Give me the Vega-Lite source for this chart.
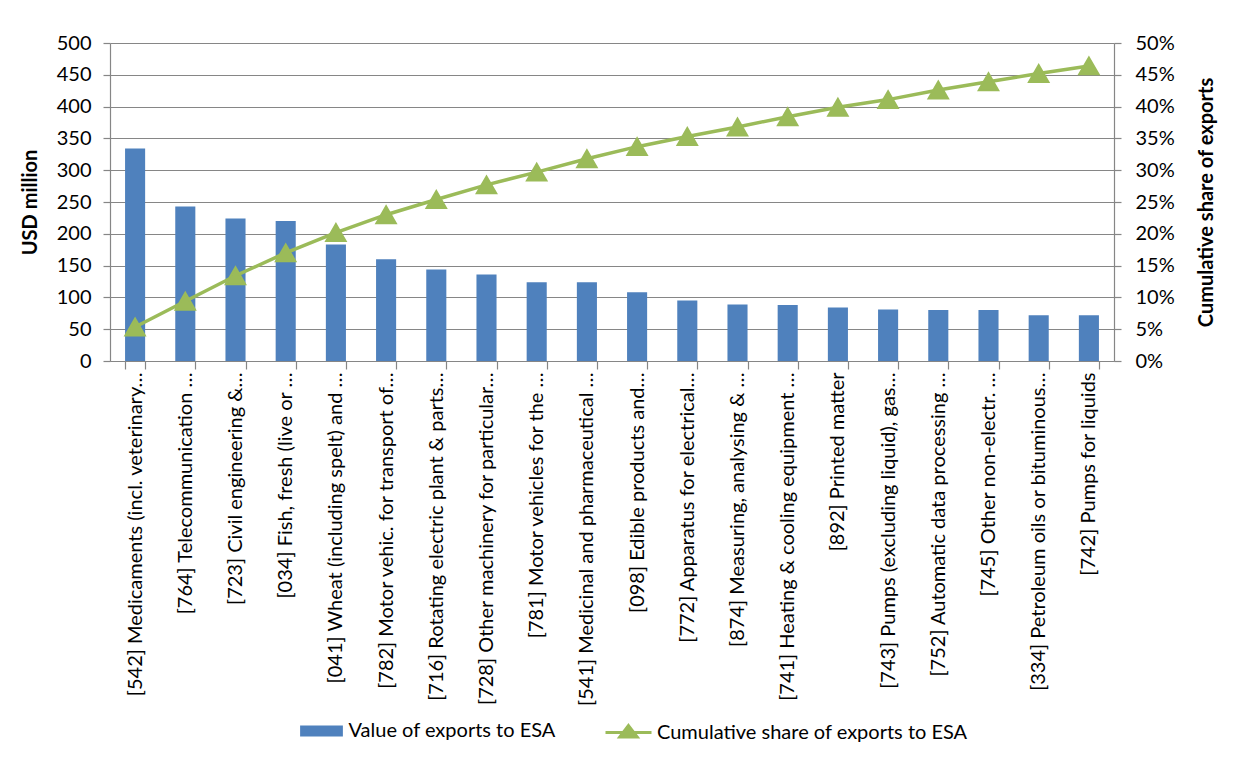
{
  "$schema": "https://vega.github.io/schema/vega-lite/v6.json",
  "width": 1004,
  "height": 318,
  "autosize": {"type": "none"},
  "padding": {"left": 110, "top": 43, "right": 135, "bottom": 398},
  "background": "white",
  "config": {
    "font": "Lato",
    "view": {"stroke": null},
    "axis": {
      "labelFont": "Lato",
      "labelFontSize": 20,
      "labelColor": "#000000",
      "titleFont": "Lato",
      "titleFontSize": 20,
      "titleFontWeight": "bold",
      "titleColor": "#000000",
      "domainColor": "#868686",
      "tickColor": "#868686",
      "gridColor": "#868686",
      "domainWidth": 1.2,
      "tickWidth": 1.2,
      "gridWidth": 1.2,
      "tickSize": 7
    },
    "legend": {
      "labelFont": "Lato",
      "labelFontSize": 20,
      "labelColor": "#000000",
      "labelLimit": 500,
      "symbolSize": 2116,
      "labelOffset": 4
    }
  },
  "data": {
    "values": [
      {"product": "[542] Medicaments (incl. veterinary\u2026", "value": 334, "share": 0.0535},
      {"product": "[764] Telecommunication \u2026", "value": 243, "share": 0.094},
      {"product": "[723] Civil engineering &\u2026", "value": 224, "share": 0.134},
      {"product": "[034] Fish, fresh (live or \u2026", "value": 220, "share": 0.170},
      {"product": "[041] Wheat (including spelt) and \u2026", "value": 183, "share": 0.202},
      {"product": "[782] Motor vehic. for transport of\u2026", "value": 160, "share": 0.230},
      {"product": "[716] Rotating electric plant & parts\u2026", "value": 144, "share": 0.254},
      {"product": "[728] Other machinery for particular\u2026", "value": 136, "share": 0.277},
      {"product": "[781] Motor vehicles for the \u2026", "value": 124, "share": 0.297},
      {"product": "[541] Medicinal and pharmaceutical \u2026", "value": 124, "share": 0.318},
      {"product": "[098] Edible products and\u2026", "value": 108, "share": 0.337},
      {"product": "[772] Apparatus for electrical\u2026", "value": 95, "share": 0.353},
      {"product": "[874] Measuring, analysing & \u2026", "value": 89, "share": 0.368},
      {"product": "[741] Heating & cooling equipment \u2026", "value": 88, "share": 0.384},
      {"product": "[892] Printed matter", "value": 84, "share": 0.399},
      {"product": "[743] Pumps (excluding liquid), gas\u2026", "value": 81, "share": 0.411},
      {"product": "[752] Automatic data processing \u2026", "value": 80, "share": 0.426},
      {"product": "[745] Other non-electr. \u2026", "value": 80, "share": 0.439},
      {"product": "[334] Petroleum oils or bituminous\u2026", "value": 72, "share": 0.452},
      {"product": "[742] Pumps for liquids", "value": 72, "share": 0.464}
    ]
  },
  "layer": [
    {
      "mark": {"type": "bar"},
      "encoding": {
        "x": {
          "field": "product",
          "type": "nominal",
          "sort": null,
          "scale": {"paddingInner": 0.6, "paddingOuter": 0.3},
          "axis": {
            "title": null,
            "labelAngle": -90,
            "labelPadding": 3,
            "labelLimit": 450,
            "tickBand": "extent",
            "grid": false,
            "tickSize": 8
          }
        },
        "y": {
          "field": "value",
          "type": "quantitative",
          "scale": {"domain": [0, 500]},
          "axis": {
            "title": "USD million",
            "values": [0, 50, 100, 150, 200, 250, 300, 350, 400, 450, 500],
            "grid": true,
            "labelPadding": 12,
            "titlePadding": 16
          }
        },
        "fill": {
          "datum": "Value of exports to ESA",
          "type": "nominal",
          "scale": {"domain": ["Value of exports to ESA"], "range": ["#4F81BD"]},
          "legend": {
            "orient": "none",
            "legendX": 188.5,
            "legendY": 665,
            "direction": "horizontal",
            "title": null,
            "symbolType": "M-0.93,-0.24H0.93V0.24H-0.93Z",
            "symbolStrokeWidth": 0
          }
        }
      }
    },
    {
      "mark": {
        "type": "line",
        "strokeWidth": 3.5,
        "color": "#9BBB59",
        "point": {"shape": "triangle-up", "size": 380, "filled": true, "color": "#9BBB59"}
      },
      "encoding": {
        "x": {"field": "product", "type": "nominal", "sort": null},
        "y": {
          "field": "share",
          "type": "quantitative",
          "scale": {"domain": [0, 0.5]},
          "axis": {
            "title": "Cumulative share of exports",
            "orient": "right",
            "format": ".0%",
            "values": [0, 0.05, 0.1, 0.15, 0.2, 0.25, 0.3, 0.35, 0.4, 0.45, 0.5],
            "grid": false,
            "labelPadding": 14,
            "titlePadding": 42,
            "titleAngle": -90
          }
        },
        "stroke": {
          "datum": "Cumulative share of exports to ESA",
          "type": "nominal",
          "scale": {"domain": ["Cumulative share of exports to ESA"], "range": ["#9BBB59"]},
          "legend": {
            "orient": "none",
            "legendX": 494,
            "legendY": 665,
            "direction": "horizontal",
            "title": null,
            "symbolType": "M-1,0H1M0,-0.3L0.38,0.2H-0.38Z",
            "symbolStrokeWidth": 3,
            "symbolFillColor": "#9BBB59"
          }
        }
      }
    }
  ],
  "resolve": {"scale": {"y": "independent"}}
}
